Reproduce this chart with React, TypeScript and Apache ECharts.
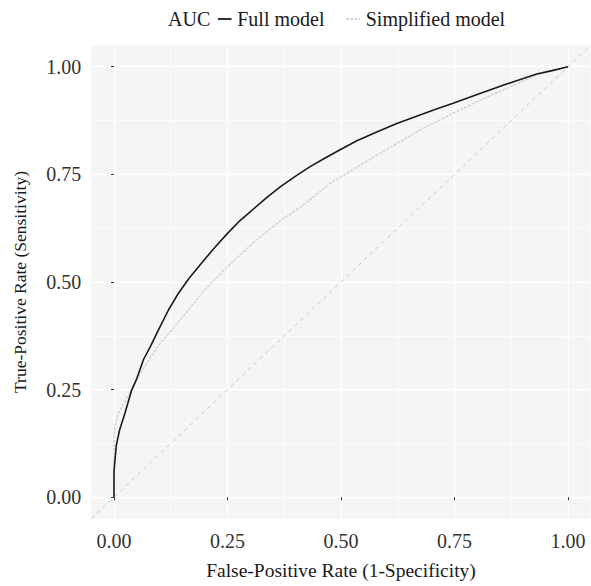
import React, { useEffect, useRef } from "react";
import * as echarts from "echarts";

const fullFpr = [0, 0, 0.005, 0.012, 0.024, 0.039, 0.05, 0.065, 0.08, 0.098, 0.12, 0.142, 0.165, 0.189, 0.22, 0.25, 0.275, 0.3, 0.335, 0.366, 0.4, 0.432, 0.465, 0.498, 0.535, 0.58, 0.623, 0.674, 0.71, 0.747, 0.806, 0.857, 0.9, 0.931, 0.965, 1];
const fullTpr = [0, 0.06, 0.12, 0.155, 0.195, 0.249, 0.275, 0.32, 0.35, 0.389, 0.435, 0.474, 0.508, 0.539, 0.578, 0.613, 0.64, 0.663, 0.695, 0.721, 0.746, 0.768, 0.788, 0.807, 0.828, 0.849, 0.868, 0.888, 0.902, 0.915, 0.938, 0.957, 0.972, 0.983, 0.991, 1];

const simpFpr = [0, 0, 0, 0.002, 0.008, 0.017, 0.028, 0.039, 0.054, 0.076, 0.1, 0.134, 0.16, 0.2, 0.25, 0.314, 0.37, 0.41, 0.476, 0.5, 0.586, 0.674, 0.747, 0.806, 0.857, 0.9, 0.931, 1];
const simpTpr = [0, 0.08, 0.133, 0.164, 0.19, 0.21, 0.23, 0.252, 0.28, 0.318, 0.355, 0.397, 0.43, 0.482, 0.536, 0.598, 0.645, 0.673, 0.729, 0.744, 0.799, 0.853, 0.892, 0.922, 0.946, 0.966, 0.981, 1];

const diagX = [-0.05, 1.05];
const diagY = [-0.05, 1.05];

const majorTicks = [0, 0.25, 0.5, 0.75, 1];
const minorTicks = [0.125, 0.375, 0.625, 0.875];

const seriesNames = ["Full model", "Simplified model"];
const legendTitle = "AUC";
const xTitle = "False-Positive Rate (1-Specificity)";
const yTitle = "True-Positive Rate (Sensitivity)";

const FONT = "Liberation Serif";

const zip = (a: number[], b: number[]) => a.map((v, i) => [v, b[i]]);

const solidKey = "path://M0,0 L15,0 L15,2 L0,2 Z";
const dashedKey =
  "path://M0,0 L3,0 L3,2 L0,2 Z M4.5,0 L7.5,0 L7.5,2 L4.5,2 Z M9,0 L12,0 L12,2 L9,2 Z M13.5,0 L15,0 L15,2 L13.5,2 Z";

export default function App() {
  const ref = useRef<HTMLDivElement>(null);
  useEffect(() => {
    if (!ref.current) return;
    const chart = echarts.init(ref.current, undefined, { renderer: "svg" });
    const mkAxis = (dir: "x" | "y", major: boolean) => ({
      type: "value",
      min: -0.05,
      max: 1.05,
      position: dir === "x" ? (major ? "bottom" : "top") : major ? "left" : "right",
      axisLine: { show: false },
      axisTick: major
        ? { show: true, length: 3, lineStyle: { color: "#333", width: 1 }, customValues: majorTicks }
        : { show: false, customValues: minorTicks },
      axisLabel: major
        ? {
            show: true,
            customValues: majorTicks,
            formatter: (v: number) => v.toFixed(2),
            color: "#333",
            fontFamily: FONT,
            fontSize: 20,
            margin: dir === "x" ? 12 : 10,
          }
        : { show: false },
      splitLine: {
        show: true,
        lineStyle: { color: "#ffffff", width: major ? 1.4 : 0.7 },
      },
      ...(major
        ? {
            name: dir === "x" ? xTitle : yTitle,
            nameLocation: "middle",
            nameGap: dir === "x" ? 42 : 62,
            nameTextStyle: {
              fontFamily: FONT,
              fontSize: dir === "x" ? 19.5 : 17.5,
              color: "#1a1a1a",
            },
          }
        : {}),
    });

    chart.setOption({
      animation: false,
      backgroundColor: "#ffffff",
      grid: {
        left: 91.3,
        top: 45.2,
        width: 499.4,
        height: 473.6,
        show: true,
        backgroundColor: "#f5f5f5",
        borderWidth: 0,
        containLabel: false,
      },
      xAxis: [mkAxis("x", true), mkAxis("x", false)],
      yAxis: [mkAxis("y", true), mkAxis("y", false)],
      legend: {
        data: [
          { name: seriesNames[0], icon: solidKey },
          { name: seriesNames[1], icon: dashedKey },
        ],
        left: 218,
        top: 9,
        padding: 0,
        itemWidth: 15,
        itemHeight: 1.8,
        itemGap: 22,
        textStyle: { fontFamily: FONT, fontSize: 20, color: "#1a1a1a" },
      },
      graphic: [
        {
          type: "text",
          left: 168,
          top: 9,
          style: { text: legendTitle, fontFamily: FONT, fontSize: 20, fill: "#1a1a1a" },
        },
      ],
      series: [
        {
          name: "diag",
          type: "line",
          data: zip(diagX, diagY),
          symbol: "none",
          silent: true,
          clip: true,
          lineStyle: { color: "#c8c8c8", width: 1, type: [4, 4] },
          z: 1,
        },
        {
          name: seriesNames[1],
          type: "line",
          data: zip(simpFpr, simpTpr),
          symbol: "none",
          clip: true,
          color: "#d2d2d2",
          itemStyle: { color: "#d2d2d2" },
          lineStyle: { color: "#d2d2d2", width: 1.4, type: [3, 1.2] },
          z: 2,
        },
        {
          name: seriesNames[0],
          type: "line",
          data: zip(fullFpr, fullTpr),
          symbol: "none",
          clip: true,
          color: "#1a1a1a",
          itemStyle: { color: "#1a1a1a" },
          lineStyle: { color: "#1a1a1a", width: 1.6 },
          z: 3,
        },
      ],
    });
    return () => chart.dispose();
  }, []);
  return (
    <div
      ref={ref}
      style={{ position: "absolute", left: 0, top: 0, width: 591, height: 586 }}
    />
  );
}
